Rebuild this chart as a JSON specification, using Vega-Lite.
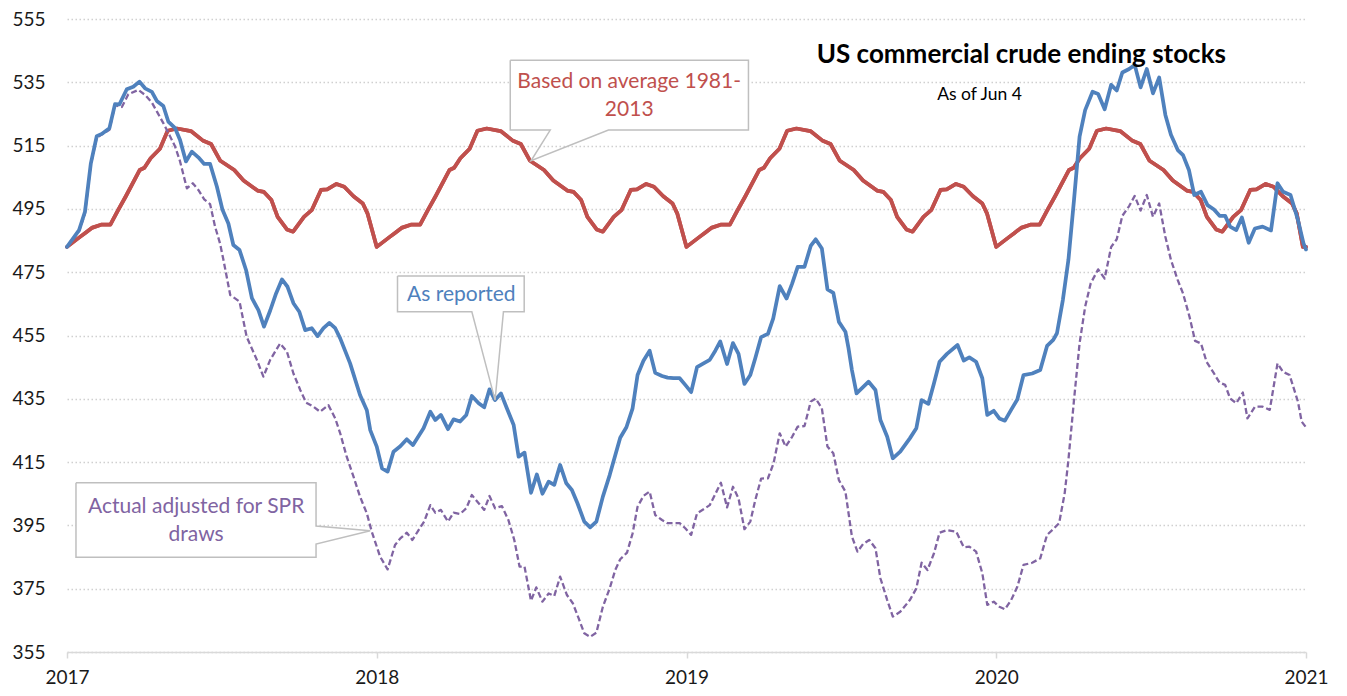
{
  "$schema": "https://vega.github.io/schema/vega-lite/v6.json",
  "width": 1239,
  "height": 633,
  "autosize": {"type": "none"},
  "padding": {"left": 67, "top": 19, "right": 41, "bottom": 44},
  "background": "white",
  "config": {
    "font": "Lato",
    "view": {"stroke": null},
    "axis": {"labelFont": "Lato", "labelFontSize": 19, "labelColor": "#1a1a1a", "title": null}
  },
  "datasets": {
    "avg": [
      {"t":2017.000,"v":483},{"t":2017.040,"v":486},{"t":2017.060,"v":487.5},{"t":2017.080,"v":489},{"t":2017.110,"v":490},{"t":2017.140,"v":490},{"t":2017.165,"v":494.6},{"t":2017.190,"v":499},{"t":2017.235,"v":507.3},{"t":2017.250,"v":508},{"t":2017.270,"v":511},{"t":2017.300,"v":514},{"t":2017.325,"v":519.7},{"t":2017.355,"v":520.4},{"t":2017.400,"v":519.6},{"t":2017.440,"v":516.5},{"t":2017.465,"v":515.5},{"t":2017.495,"v":510.2},{"t":2017.540,"v":507.3},{"t":2017.570,"v":504},{"t":2017.615,"v":500.8},{"t":2017.635,"v":500.4},{"t":2017.660,"v":497.8},{"t":2017.680,"v":492.5},{"t":2017.710,"v":488.5},{"t":2017.730,"v":487.8},{"t":2017.765,"v":492.5},{"t":2017.790,"v":494.6},{"t":2017.820,"v":501},{"t":2017.840,"v":501.2},{"t":2017.870,"v":502.9},{"t":2017.895,"v":502},{"t":2017.925,"v":499},{"t":2017.955,"v":496.7},{"t":2017.970,"v":493.6},
      {"t":2018.000,"v":483},{"t":2018.040,"v":486},{"t":2018.060,"v":487.5},{"t":2018.080,"v":489},{"t":2018.110,"v":490},{"t":2018.140,"v":490},{"t":2018.165,"v":494.6},{"t":2018.190,"v":499},{"t":2018.235,"v":507.3},{"t":2018.250,"v":508},{"t":2018.270,"v":511},{"t":2018.300,"v":514},{"t":2018.325,"v":519.7},{"t":2018.355,"v":520.4},{"t":2018.400,"v":519.6},{"t":2018.440,"v":516.5},{"t":2018.465,"v":515.5},{"t":2018.495,"v":510.2},{"t":2018.540,"v":507.3},{"t":2018.570,"v":504},{"t":2018.615,"v":500.8},{"t":2018.635,"v":500.4},{"t":2018.660,"v":497.8},{"t":2018.680,"v":492.5},{"t":2018.710,"v":488.5},{"t":2018.730,"v":487.8},{"t":2018.765,"v":492.5},{"t":2018.790,"v":494.6},{"t":2018.820,"v":501},{"t":2018.840,"v":501.2},{"t":2018.870,"v":502.9},{"t":2018.895,"v":502},{"t":2018.925,"v":499},{"t":2018.955,"v":496.7},{"t":2018.970,"v":493.6},
      {"t":2019.000,"v":483},{"t":2019.040,"v":486},{"t":2019.060,"v":487.5},{"t":2019.080,"v":489},{"t":2019.110,"v":490},{"t":2019.140,"v":490},{"t":2019.165,"v":494.6},{"t":2019.190,"v":499},{"t":2019.235,"v":507.3},{"t":2019.250,"v":508},{"t":2019.270,"v":511},{"t":2019.300,"v":514},{"t":2019.325,"v":519.7},{"t":2019.355,"v":520.4},{"t":2019.400,"v":519.6},{"t":2019.440,"v":516.5},{"t":2019.465,"v":515.5},{"t":2019.495,"v":510.2},{"t":2019.540,"v":507.3},{"t":2019.570,"v":504},{"t":2019.615,"v":500.8},{"t":2019.635,"v":500.4},{"t":2019.660,"v":497.8},{"t":2019.680,"v":492.5},{"t":2019.710,"v":488.5},{"t":2019.730,"v":487.8},{"t":2019.765,"v":492.5},{"t":2019.790,"v":494.6},{"t":2019.820,"v":501},{"t":2019.840,"v":501.2},{"t":2019.870,"v":502.9},{"t":2019.895,"v":502},{"t":2019.925,"v":499},{"t":2019.955,"v":496.7},{"t":2019.970,"v":493.6},
      {"t":2020.000,"v":483},{"t":2020.040,"v":486},{"t":2020.060,"v":487.5},{"t":2020.080,"v":489},{"t":2020.110,"v":490},{"t":2020.140,"v":490},{"t":2020.165,"v":494.6},{"t":2020.190,"v":499},{"t":2020.235,"v":507.3},{"t":2020.250,"v":508},{"t":2020.270,"v":511},{"t":2020.300,"v":514},{"t":2020.325,"v":519.7},{"t":2020.355,"v":520.4},{"t":2020.400,"v":519.6},{"t":2020.440,"v":516.5},{"t":2020.465,"v":515.5},{"t":2020.495,"v":510.2},{"t":2020.540,"v":507.3},{"t":2020.570,"v":504},{"t":2020.615,"v":500.8},{"t":2020.635,"v":500.4},{"t":2020.660,"v":497.8},{"t":2020.680,"v":492.5},{"t":2020.710,"v":488.5},{"t":2020.730,"v":487.8},{"t":2020.765,"v":492.5},{"t":2020.790,"v":494.6},{"t":2020.820,"v":501},{"t":2020.840,"v":501.2},{"t":2020.870,"v":502.9},{"t":2020.895,"v":502},{"t":2020.925,"v":499},{"t":2020.955,"v":496.7},{"t":2020.970,"v":493.6},{"t":2020.990,"v":483},{"t":2021.000,"v":483}
    ],
    "reported": [
      {"t":2017.000,"v":483},{"t":2017.039,"v":488.3},{"t":2017.058,"v":494.1},{"t":2017.077,"v":509.4},{"t":2017.096,"v":518},{"t":2017.112,"v":518.7},{"t":2017.137,"v":520.5},{"t":2017.155,"v":528.1},{"t":2017.169,"v":528},{"t":2017.193,"v":532.8},{"t":2017.214,"v":533.6},{"t":2017.234,"v":535.2},{"t":2017.252,"v":533.1},{"t":2017.274,"v":532},{"t":2017.290,"v":529.1},{"t":2017.311,"v":527.5},{"t":2017.327,"v":522.6},{"t":2017.349,"v":520.5},{"t":2017.365,"v":516.8},{"t":2017.384,"v":510},{"t":2017.403,"v":513.1},{"t":2017.424,"v":511.3},{"t":2017.443,"v":509.2},{"t":2017.462,"v":509.2},{"t":2017.484,"v":502},{"t":2017.502,"v":494.7},{"t":2017.521,"v":490.4},{"t":2017.537,"v":483.6},{"t":2017.557,"v":482},{"t":2017.578,"v":475.7},{"t":2017.597,"v":466.8},{"t":2017.618,"v":463},{"t":2017.636,"v":457.8},{"t":2017.656,"v":462.9},{"t":2017.675,"v":468.3},{"t":2017.694,"v":472.7},{"t":2017.712,"v":470.4},{"t":2017.731,"v":465.2},{"t":2017.750,"v":462.5},{"t":2017.769,"v":456.7},{"t":2017.790,"v":457.3},{"t":2017.809,"v":454.8},{"t":2017.828,"v":457.3},{"t":2017.847,"v":459},{"t":2017.866,"v":457.3},{"t":2017.882,"v":454.1},{"t":2017.914,"v":446.2},{"t":2017.946,"v":436.2},{"t":2017.968,"v":431.4},{"t":2017.979,"v":425.1},
      {"t":2018.000,"v":419.9},{"t":2018.017,"v":413},{"t":2018.035,"v":412},{"t":2018.054,"v":418.3},{"t":2018.076,"v":420},{"t":2018.097,"v":422.2},{"t":2018.117,"v":420.4},{"t":2018.151,"v":425.7},{"t":2018.173,"v":430.9},{"t":2018.189,"v":428.3},{"t":2018.207,"v":429.9},{"t":2018.230,"v":425.4},{"t":2018.248,"v":428.5},{"t":2018.269,"v":427.8},{"t":2018.289,"v":429.9},{"t":2018.307,"v":435.9},{"t":2018.329,"v":433.6},{"t":2018.347,"v":432.3},{"t":2018.364,"v":438},{"t":2018.382,"v":434.6},{"t":2018.401,"v":436.7},{"t":2018.420,"v":432},{"t":2018.442,"v":426.7},{"t":2018.458,"v":416.7},{"t":2018.477,"v":418},{"t":2018.498,"v":405.3},{"t":2018.517,"v":411.1},{"t":2018.535,"v":405},{"t":2018.555,"v":408.8},{"t":2018.573,"v":407.8},{"t":2018.592,"v":414.1},{"t":2018.612,"v":408.3},{"t":2018.630,"v":406.2},{"t":2018.648,"v":402},{"t":2018.670,"v":396.2},{"t":2018.689,"v":394.4},{"t":2018.709,"v":396.2},{"t":2018.730,"v":404.1},{"t":2018.752,"v":410.9},{"t":2018.770,"v":417.2},{"t":2018.786,"v":422.7},{"t":2018.806,"v":426},{"t":2018.826,"v":432},{"t":2018.842,"v":442.5},{"t":2018.861,"v":447},{"t":2018.881,"v":450.2},{"t":2018.899,"v":443.2},{"t":2018.921,"v":442.2},{"t":2018.939,"v":441.7},{"t":2018.958,"v":441.5},{"t":2018.978,"v":441.5},{"t":2018.996,"v":439.4},
      {"t":2019.015,"v":437.1},{"t":2019.034,"v":445},{"t":2019.055,"v":446.2},{"t":2019.075,"v":447.3},{"t":2019.093,"v":450.2},{"t":2019.109,"v":453.1},{"t":2019.131,"v":446},{"t":2019.150,"v":452.6},{"t":2019.168,"v":449.2},{"t":2019.187,"v":439.7},{"t":2019.206,"v":442.5},{"t":2019.222,"v":447.8},{"t":2019.241,"v":454.5},{"t":2019.263,"v":455.5},{"t":2019.280,"v":460.4},{"t":2019.301,"v":470.6},{"t":2019.323,"v":466.7},{"t":2019.341,"v":471.4},{"t":2019.359,"v":476.7},{"t":2019.381,"v":476.7},{"t":2019.401,"v":483.3},{"t":2019.417,"v":485.4},{"t":2019.437,"v":482.5},{"t":2019.455,"v":469.6},{"t":2019.474,"v":468.5},{"t":2019.492,"v":459.3},{"t":2019.513,"v":456.2},{"t":2019.523,"v":451},{"t":2019.534,"v":444.1},{"t":2019.549,"v":436.7},{"t":2019.588,"v":440.4},{"t":2019.610,"v":437.8},{"t":2019.626,"v":428.3},{"t":2019.648,"v":423},{"t":2019.666,"v":416.2},{"t":2019.690,"v":418.3},{"t":2019.721,"v":422.5},{"t":2019.742,"v":425.7},{"t":2019.759,"v":434.6},{"t":2019.781,"v":433.4},{"t":2019.799,"v":439.9},{"t":2019.817,"v":446.7},{"t":2019.841,"v":449.2},{"t":2019.875,"v":452},{"t":2019.895,"v":447.1},{"t":2019.913,"v":448.1},{"t":2019.935,"v":446.7},{"t":2019.955,"v":441.5},{"t":2019.971,"v":429.9},{"t":2019.992,"v":431.2},
      {"t":2020.010,"v":428.8},{"t":2020.028,"v":428.1},{"t":2020.048,"v":431.5},{"t":2020.068,"v":434.8},{"t":2020.088,"v":442.5},{"t":2020.116,"v":443},{"t":2020.142,"v":444.1},{"t":2020.164,"v":451.7},{"t":2020.184,"v":453.6},{"t":2020.196,"v":455.7},{"t":2020.215,"v":466.2},{"t":2020.233,"v":478.9},{"t":2020.251,"v":497.8},{"t":2020.269,"v":517.8},{"t":2020.287,"v":526.2},{"t":2020.311,"v":532},{"t":2020.329,"v":531.3},{"t":2020.350,"v":526.5},{"t":2020.371,"v":534.2},{"t":2020.389,"v":532.4},{"t":2020.407,"v":538.1},{"t":2020.429,"v":539.2},{"t":2020.447,"v":540.5},{"t":2020.466,"v":533.4},{"t":2020.486,"v":539.2},{"t":2020.506,"v":531.5},{"t":2020.526,"v":536.5},{"t":2020.546,"v":524.7},{"t":2020.564,"v":518.4},{"t":2020.586,"v":513.6},{"t":2020.603,"v":512},{"t":2020.622,"v":507.3},{"t":2020.639,"v":499.4},{"t":2020.661,"v":500.4},{"t":2020.682,"v":496.2},{"t":2020.703,"v":494.8},{"t":2020.721,"v":492.8},{"t":2020.739,"v":492.8},{"t":2020.755,"v":489.4},{"t":2020.775,"v":488.3},{"t":2020.793,"v":492.3},{"t":2020.815,"v":484.3},{"t":2020.835,"v":488.8},{"t":2020.860,"v":489.4},{"t":2020.887,"v":488.2},{"t":2020.908,"v":503.1},{"t":2020.926,"v":500.4},{"t":2020.950,"v":499.4},{"t":2020.974,"v":491.5},{"t":2020.992,"v":484.1},{"t":2021.000,"v":482.2}
    ],
    "adjusted": [
      {"t":2017.000,"v":483},{"t":2017.039,"v":488},{"t":2017.058,"v":493.5},{"t":2017.077,"v":509},{"t":2017.096,"v":517.5},{"t":2017.112,"v":518.5},{"t":2017.137,"v":520},{"t":2017.155,"v":527.8},{"t":2017.177,"v":527.2},{"t":2017.198,"v":531.2},{"t":2017.230,"v":532.6},{"t":2017.252,"v":531},{"t":2017.274,"v":528.6},{"t":2017.290,"v":525.8},{"t":2017.311,"v":522.1},{"t":2017.333,"v":517.9},{"t":2017.349,"v":514.7},{"t":2017.365,"v":510},{"t":2017.387,"v":501.5},{"t":2017.406,"v":503.1},{"t":2017.424,"v":501},{"t":2017.443,"v":498},{"t":2017.462,"v":496.5},{"t":2017.478,"v":489.4},{"t":2017.494,"v":484.1},{"t":2017.505,"v":478.9},{"t":2017.527,"v":467.8},{"t":2017.557,"v":465.7},{"t":2017.580,"v":454.6},{"t":2017.594,"v":451.5},{"t":2017.613,"v":447.3},{"t":2017.634,"v":442},{"t":2017.656,"v":447.3},{"t":2017.688,"v":452.5},{"t":2017.710,"v":449.9},{"t":2017.731,"v":443},{"t":2017.753,"v":437.8},{"t":2017.772,"v":433.8},{"t":2017.796,"v":432.5},{"t":2017.817,"v":430.9},{"t":2017.844,"v":433},{"t":2017.866,"v":428.8},{"t":2017.882,"v":424.1},{"t":2017.903,"v":416.7},{"t":2017.925,"v":410.4},{"t":2017.946,"v":404.1},{"t":2017.968,"v":398.8},{"t":2017.984,"v":393},
      {"t":2018.011,"v":385.1},{"t":2018.035,"v":381.1},{"t":2018.059,"v":388.8},{"t":2018.076,"v":390.9},{"t":2018.097,"v":392.7},{"t":2018.115,"v":390.4},{"t":2018.135,"v":393.5},{"t":2018.153,"v":396.2},{"t":2018.173,"v":401.4},{"t":2018.189,"v":399},{"t":2018.207,"v":399.9},{"t":2018.230,"v":396.2},{"t":2018.248,"v":399},{"t":2018.269,"v":398.6},{"t":2018.289,"v":400.4},{"t":2018.307,"v":404.6},{"t":2018.329,"v":402},{"t":2018.347,"v":399.9},{"t":2018.364,"v":404.3},{"t":2018.382,"v":400.4},{"t":2018.404,"v":401.1},{"t":2018.425,"v":396.7},{"t":2018.444,"v":390.4},{"t":2018.461,"v":382},{"t":2018.477,"v":382},{"t":2018.498,"v":371.2},{"t":2018.515,"v":375.4},{"t":2018.535,"v":370.9},{"t":2018.555,"v":373.5},{"t":2018.573,"v":372.7},{"t":2018.592,"v":378.8},{"t":2018.614,"v":373},{"t":2018.633,"v":370.4},{"t":2018.652,"v":365.6},{"t":2018.670,"v":360.9},{"t":2018.689,"v":359.8},{"t":2018.709,"v":361.1},{"t":2018.730,"v":369.3},{"t":2018.752,"v":375.1},{"t":2018.770,"v":380.9},{"t":2018.786,"v":384.3},{"t":2018.808,"v":386.4},{"t":2018.826,"v":392.5},{"t":2018.842,"v":400.9},{"t":2018.861,"v":404.3},{"t":2018.881,"v":405.7},{"t":2018.899,"v":398.3},{"t":2018.921,"v":396.7},{"t":2018.939,"v":395.7},{"t":2018.958,"v":395.7},{"t":2018.978,"v":395.7},{"t":2018.996,"v":394.1},
      {"t":2019.015,"v":392},{"t":2019.034,"v":398.8},{"t":2019.055,"v":400.1},{"t":2019.075,"v":401.4},{"t":2019.093,"v":404.9},{"t":2019.111,"v":408.5},{"t":2019.131,"v":400.7},{"t":2019.150,"v":407.2},{"t":2019.168,"v":403.5},{"t":2019.187,"v":393.8},{"t":2019.206,"v":396.2},{"t":2019.222,"v":403},{"t":2019.241,"v":409.8},{"t":2019.263,"v":409.9},{"t":2019.281,"v":414.6},{"t":2019.301,"v":424.1},{"t":2019.320,"v":419.9},{"t":2019.341,"v":423},{"t":2019.359,"v":426.2},{"t":2019.381,"v":426.4},{"t":2019.401,"v":434.1},{"t":2019.417,"v":435.1},{"t":2019.437,"v":432},{"t":2019.455,"v":419.9},{"t":2019.474,"v":417.8},{"t":2019.492,"v":409.3},{"t":2019.513,"v":405.7},{"t":2019.534,"v":391.5},{"t":2019.552,"v":386.7},{"t":2019.570,"v":389.1},{"t":2019.590,"v":390.4},{"t":2019.610,"v":387.8},{"t":2019.626,"v":378.3},{"t":2019.648,"v":371.4},{"t":2019.666,"v":366.2},{"t":2019.690,"v":367.7},{"t":2019.721,"v":371.4},{"t":2019.742,"v":375.1},{"t":2019.759,"v":383.2},{"t":2019.778,"v":380.9},{"t":2019.799,"v":386.2},{"t":2019.817,"v":392.7},{"t":2019.841,"v":393.5},{"t":2019.871,"v":393},{"t":2019.895,"v":388.1},{"t":2019.913,"v":388.3},{"t":2019.935,"v":386.7},{"t":2019.955,"v":379.9},{"t":2019.971,"v":369.9},{"t":2019.992,"v":370.9},
      {"t":2020.010,"v":369.3},{"t":2020.028,"v":368.5},{"t":2020.048,"v":371.4},{"t":2020.068,"v":375.6},{"t":2020.088,"v":382.5},{"t":2020.116,"v":383.2},{"t":2020.142,"v":384.6},{"t":2020.164,"v":392},{"t":2020.184,"v":393.8},{"t":2020.203,"v":395.7},{"t":2020.221,"v":405.2},{"t":2020.233,"v":415.7},{"t":2020.251,"v":434.6},{"t":2020.269,"v":452.5},{"t":2020.287,"v":464.1},{"t":2020.305,"v":471.5},{"t":2020.329,"v":475.9},{"t":2020.350,"v":473},{"t":2020.371,"v":483},{"t":2020.389,"v":485.4},{"t":2020.407,"v":492.8},{"t":2020.429,"v":495.9},{"t":2020.447,"v":499.1},{"t":2020.466,"v":494.5},{"t":2020.486,"v":499.4},{"t":2020.506,"v":492.5},{"t":2020.526,"v":496.7},{"t":2020.546,"v":486.2},{"t":2020.564,"v":478.9},{"t":2020.586,"v":472.5},{"t":2020.603,"v":468.3},{"t":2020.624,"v":460.9},{"t":2020.642,"v":453.3},{"t":2020.661,"v":452.5},{"t":2020.679,"v":446.7},{"t":2020.703,"v":443},{"t":2020.721,"v":440.1},{"t":2020.739,"v":439.4},{"t":2020.755,"v":435.1},{"t":2020.775,"v":433.6},{"t":2020.796,"v":437},{"t":2020.811,"v":428.8},{"t":2020.835,"v":432.5},{"t":2020.860,"v":432.5},{"t":2020.883,"v":431.5},{"t":2020.908,"v":446.2},{"t":2020.926,"v":443.5},{"t":2020.947,"v":442.5},{"t":2020.974,"v":434.1},{"t":2020.986,"v":427.8},{"t":2021.000,"v":426}
    ],
    "boxes": [
      {"x1":2018.431,"x2":2019.200,"y1":519.9,"y2":542.0},
      {"x1":2018.067,"x2":2018.476,"y1":462.5,"y2":473.8},
      {"x1":2017.029,"x2":2017.804,"y1":384.9,"y2":408.5}
    ],
    "outlines": [
      {"id":"a","o":1,"px":2018.431,"py":542.0},{"id":"a","o":2,"px":2019.200,"py":542.0},{"id":"a","o":3,"px":2019.200,"py":519.9},{"id":"a","o":4,"px":2018.748,"py":519.9},{"id":"a","o":5,"px":2018.498,"py":510.2},{"id":"a","o":6,"px":2018.560,"py":519.9},{"id":"a","o":7,"px":2018.431,"py":519.9},{"id":"a","o":8,"px":2018.431,"py":542.0},
      {"id":"b","o":1,"px":2018.067,"py":473.8},{"id":"b","o":2,"px":2018.476,"py":473.8},{"id":"b","o":3,"px":2018.476,"py":462.5},{"id":"b","o":4,"px":2018.409,"py":462.5},{"id":"b","o":5,"px":2018.382,"py":434.6},{"id":"b","o":6,"px":2018.307,"py":462.5},{"id":"b","o":7,"px":2018.067,"py":462.5},{"id":"b","o":8,"px":2018.067,"py":473.8},
      {"id":"c","o":1,"px":2017.029,"py":408.5},{"id":"c","o":2,"px":2017.804,"py":408.5},{"id":"c","o":3,"px":2017.804,"py":394.8},{"id":"c","o":4,"px":2017.979,"py":393.3},{"id":"c","o":5,"px":2017.804,"py":389.1},{"id":"c","o":6,"px":2017.804,"py":384.9},{"id":"c","o":7,"px":2017.029,"py":384.9},{"id":"c","o":8,"px":2017.029,"py":408.5}
    ]
  },
  "layer": [
    {
      "data": {"name": "avg"},
      "mark": {"type": "line", "color": "#c0504d", "strokeWidth": 3.75, "strokeJoin": "round", "strokeCap": "round"},
      "encoding": {
        "x": {"field": "t", "type": "quantitative",
          "scale": {"domain": [2017, 2021], "nice": false, "zero": false},
          "axis": {"values": [2017, 2018, 2019, 2020, 2021], "format": "d", "grid": false,
            "domain": true, "domainColor": "#d9d9d9", "domainWidth": 1.5,
            "ticks": true, "tickColor": "#d9d9d9", "tickWidth": 1.5, "tickSize": 6,
            "labelPadding": 10, "labelFlush": false, "labelOverlap": false}},
        "y": {"field": "v", "type": "quantitative",
          "scale": {"domain": [355, 555], "nice": false, "zero": false},
          "axis": {"values": [355, 375, 395, 415, 435, 455, 475, 495, 515, 535, 555],
            "grid": true, "gridColor": "#d0d0d0", "gridDash": [1.5, 2.5], "gridWidth": 1.5,
            "domain": false, "ticks": false, "labelPadding": 22}}
      }
    },
    {
      "data": {"name": "boxes"},
      "mark": {"type": "rect", "fill": "white", "stroke": null},
      "encoding": {
        "x": {"field": "x1", "type": "quantitative"},
        "x2": {"field": "x2"},
        "y": {"field": "y1", "type": "quantitative"},
        "y2": {"field": "y2"}
      }
    },
    {
      "data": {"name": "avg"},
      "mark": {"type": "line", "color": "#c0504d", "strokeWidth": 3.75, "strokeJoin": "round", "strokeCap": "round"},
      "encoding": {
        "x": {"field": "t", "type": "quantitative"},
        "y": {"field": "v", "type": "quantitative"}
      }
    },
    {
      "data": {"name": "adjusted"},
      "mark": {"type": "line", "color": "#8064a2", "strokeWidth": 2.3, "strokeDash": [6, 3], "strokeJoin": "round"},
      "encoding": {
        "x": {"field": "t", "type": "quantitative"},
        "y": {"field": "v", "type": "quantitative"}
      }
    },
    {
      "data": {"name": "reported"},
      "mark": {"type": "line", "color": "#4f81bd", "strokeWidth": 3.75, "strokeJoin": "round", "strokeCap": "round"},
      "encoding": {
        "x": {"field": "t", "type": "quantitative"},
        "y": {"field": "v", "type": "quantitative"}
      }
    },
    {
      "data": {"name": "outlines"},
      "mark": {"type": "line", "color": "#bfbfbf", "strokeWidth": 1.5, "strokeJoin": "miter"},
      "encoding": {
        "x": {"field": "px", "type": "quantitative"},
        "y": {"field": "py", "type": "quantitative"},
        "detail": {"field": "id"},
        "order": {"field": "o", "type": "quantitative"}
      }
    },
    {
      "data": {"values": [{"tx": 2018.815, "ty": 535.1, "label": "Based on average 1981-"}, {"tx": 2018.815, "ty": 526.2, "label": "2013"}]},
      "mark": {"type": "text", "color": "#c0504d", "fontSize": 21, "font": "Lato", "align": "center", "baseline": "middle"},
      "encoding": {"x": {"field": "tx", "type": "quantitative"}, "y": {"field": "ty", "type": "quantitative"}, "text": {"field": "label"}}
    },
    {
      "data": {"values": [{"tx": 2018.273, "ty": 467.8, "label": "As reported"}]},
      "mark": {"type": "text", "color": "#4f81bd", "fontSize": 21, "font": "Lato", "align": "center", "baseline": "middle"},
      "encoding": {"x": {"field": "tx", "type": "quantitative"}, "y": {"field": "ty", "type": "quantitative"}, "text": {"field": "label"}}
    },
    {
      "data": {"values": [{"tx": 2017.417, "ty": 400.9, "label": "Actual adjusted for SPR"}, {"tx": 2017.417, "ty": 392.0, "label": "draws"}]},
      "mark": {"type": "text", "color": "#8064a2", "fontSize": 21, "font": "Lato", "align": "center", "baseline": "middle"},
      "encoding": {"x": {"field": "tx", "type": "quantitative"}, "y": {"field": "ty", "type": "quantitative"}, "text": {"field": "label"}}
    },
    {
      "data": {"values": [{"tx": 2020.081, "ty": 543.6, "label": "US commercial crude ending stocks"}]},
      "mark": {"type": "text", "color": "#000000", "fontSize": 26, "fontWeight": "bold", "font": "Lato", "align": "center", "baseline": "middle"},
      "encoding": {"x": {"field": "tx", "type": "quantitative"}, "y": {"field": "ty", "type": "quantitative"}, "text": {"field": "label"}}
    },
    {
      "data": {"values": [{"tx": 2019.946, "ty": 531.0, "label": "As of Jun 4"}]},
      "mark": {"type": "text", "color": "#000000", "fontSize": 17.5, "font": "Lato", "align": "center", "baseline": "middle"},
      "encoding": {"x": {"field": "tx", "type": "quantitative"}, "y": {"field": "ty", "type": "quantitative"}, "text": {"field": "label"}}
    }
  ]
}
